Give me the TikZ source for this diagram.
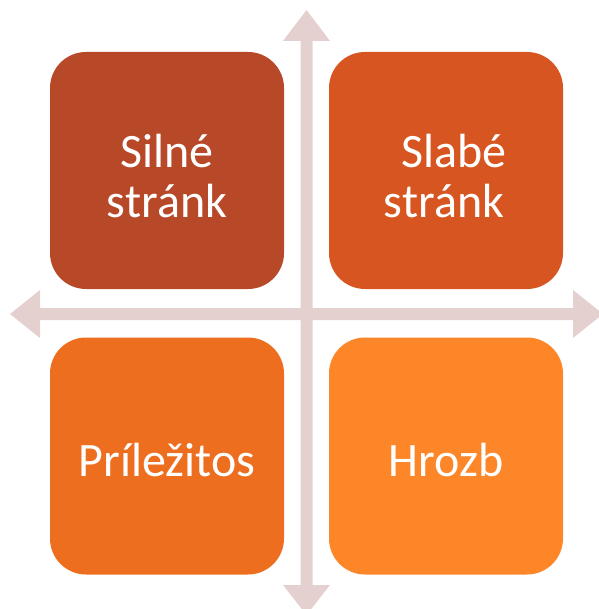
\documentclass[tikz,border=0pt]{standalone}
\usepackage{fontspec}
\setmainfont{Carlito}
\definecolor{cTL}{RGB}{183,72,40}
\definecolor{cTR}{RGB}{214,85,32}
\definecolor{cBL}{RGB}{238,110,32}
\definecolor{cBR}{RGB}{252,134,40}
\definecolor{cArrow}{RGB}{228,208,206}
\begin{document}
\begin{tikzpicture}[x=1pt,y=-1pt,
  quad/.style={rounded corners=36pt, minimum width=234pt, minimum height=237pt,
    inner sep=0pt, text=white, align=center,
    font=\fontsize{48}{50}\selectfont},
  label text/.style={text=white, align=center, font=\fontsize{48}{50}\selectfont, inner sep=0pt},
  arrowfill/.style={fill=cArrow, draw=none}]
\useasboundingbox (0,0) rectangle (598,609);
% cross arrows
\fill[arrowfill] (300.5,41) -- (283,41) -- (306.5,10) -- (330,41) -- (312.5,41)
  -- (312.5,585) -- (330,585) -- (306.5,615) -- (283,585) -- (300.5,585) -- cycle;
\fill[arrowfill] (40,308) -- (40,290) -- (10,314) -- (40,338) -- (40,320)
  -- (573,320) -- (573,338) -- (603,314) -- (573,290) -- (573,308) -- cycle;
% quadrants
\node[quad, fill=cTL] (s) at (167,170.5) {};
\node[quad, fill=cTR] (w) at (446,170.5) {};
\node[quad, fill=cBL] (o) at (167,456) {};
\node[quad, fill=cBR] (t) at (446,456) {};
\node[label text] (st) at ([yshift=-6pt]s.center) {Silné\\stránk};
\node[label text] (wt) at ([xshift=-2pt,yshift=-6pt]w.center) {\hspace{20pt}Slabé\\stránk};
\node[label text] (ot) at ([yshift=-4pt]o.center) {Príležitos};
\node[label text] (tt) at ([yshift=-4pt]t.center) {Hrozb};
\end{tikzpicture}
\end{document}
